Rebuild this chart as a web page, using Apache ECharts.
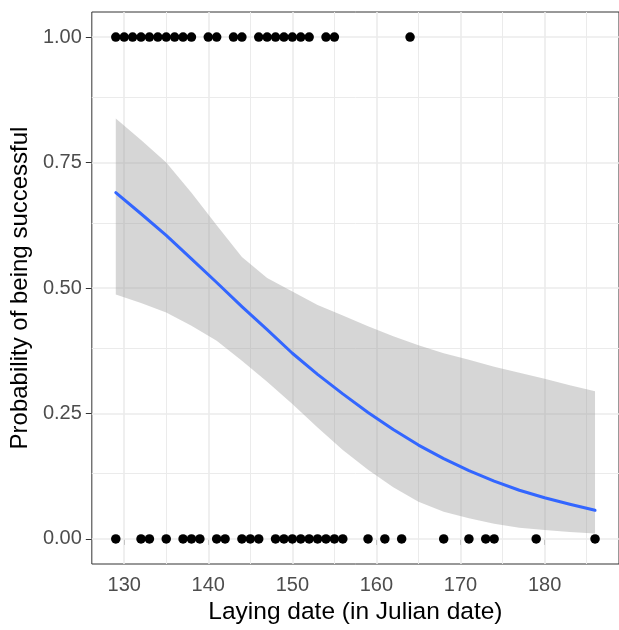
<!DOCTYPE html>
<html>
<head>
<meta charset="utf-8">
<script src="https://cdn.jsdelivr.net/npm/echarts@6/dist/echarts.min.js"></script>
<style>
html,body{margin:0;padding:0;background:#fff;}
#chart{width:619px;height:630px;}
</style>
</head>
<body>
<div id="chart"></div>
<script>
// ---- data ----
const successDates = [129,130,131,132,133,134,135,136,137,138,140,141,143,144,146,147,148,149,150,151,152,154,155,164];
const failureDates = [129,132,133,135,137,138,139,141,142,144,145,146,148,149,150,151,152,153,154,155,156,159,161,163,168,171,173,174,179,186];

const fitDates  = [129,132,135,138,141,144,147,150,153,156,159,162,165,168,171,174,177,180,183,186];
const fitProb   = [0.690,0.648,0.605,0.558,0.511,0.463,0.417,0.370,0.328,0.289,0.252,0.218,0.187,0.160,0.136,0.115,0.097,0.082,0.069,0.057];
const fitUpper  = [0.838,0.795,0.750,0.690,0.625,0.562,0.520,0.493,0.466,0.445,0.424,0.404,0.386,0.370,0.357,0.343,0.331,0.319,0.306,0.294];
const fitLower  = [0.487,0.470,0.451,0.425,0.395,0.355,0.313,0.269,0.222,0.177,0.138,0.103,0.074,0.054,0.041,0.030,0.022,0.018,0.014,0.011];

const xTicks = [130,140,150,160,170,180];
const xMinor = [135,145,155,165,175,185];
const yTicks = [0,0.25,0.5,0.75,1];
const yMinor = [0.125,0.375,0.625,0.875];
const xRange = [126.15, 188.85];
const yRange = [-0.05, 1.05];

const xTitle = 'Laying date (in Julian date)';
const yTitle = 'Probability of being successful';

// ---- chart ----
const FONT = '"Liberation Sans", Arial, sans-serif';
const GRID_COLOR = '#ebebeb';

function gridSeries(xs, ys, width) {
  return {
    type: 'line', data: [], silent: true, z: 1,
    markLine: {
      silent: true, animation: false, symbol: ['none','none'], z: 1,
      label: {show: false},
      lineStyle: {color: GRID_COLOR, width: width, type: 'solid'},
      emphasis: {disabled: true},
      data: xs.map(v => ({xAxis: v})).concat(ys.map(v => ({yAxis: v})))
    }
  };
}

const bandData = fitDates.map((d, i) => [d, fitLower[i], fitUpper[i]]);

const chart = echarts.init(document.getElementById('chart'), null, {renderer: 'canvas'});
chart.setOption({
  animation: false,
  backgroundColor: '#ffffff',
  textStyle: {fontFamily: FONT},
  grid: {left: 91, top: 12, right: -11, bottom: 62, show: true, borderColor: '#333333', borderWidth: 1, backgroundColor: 'transparent'},
  xAxis: {
    type: 'value', min: xRange[0], max: xRange[1],
    axisLine: {show: false},
    axisTick: {show: true, length: 6, customValues: xTicks, lineStyle: {color: '#333333', width: 1}},
    axisLabel: {customValues: xTicks, fontSize: 20, color: '#4d4d4d', margin: 11, fontFamily: FONT},
    splitLine: {show: false},
    name: xTitle, nameLocation: 'middle', nameGap: 36,
    nameTextStyle: {fontSize: 24.5, color: '#000000', fontFamily: FONT}
  },
  yAxis: {
    type: 'value', min: yRange[0], max: yRange[1],
    axisLine: {show: false},
    axisTick: {show: true, length: 6, customValues: yTicks, lineStyle: {color: '#333333', width: 1}},
    axisLabel: {customValues: yTicks, fontSize: 20, color: '#4d4d4d', margin: 10, fontFamily: FONT,
      formatter: v => Number(v).toFixed(2)},
    splitLine: {show: false},
    name: yTitle, nameLocation: 'middle', nameGap: 57, nameRotate: 90,
    nameTextStyle: {fontSize: 24, color: '#000000', fontFamily: FONT}
  },
  series: [
    gridSeries(xMinor, yMinor, 1),
    gridSeries(xTicks, yTicks, 1.6),
    {
      type: 'custom', z: 2, silent: true,
      data: bandData,
      encode: {x: 0, y: [1, 2]},
      renderItem: function (params, api) {
        if (params.dataIndex !== 0) return null;
        const pts = [];
        for (let i = 0; i < bandData.length; i++) pts.push(api.coord([bandData[i][0], bandData[i][2]]));
        for (let i = bandData.length - 1; i >= 0; i--) pts.push(api.coord([bandData[i][0], bandData[i][1]]));
        return {type: 'polygon', shape: {points: pts}, style: {fill: 'rgba(153,153,153,0.4)', stroke: null}};
      }
    },
    {
      type: 'line', z: 3, silent: true,
      data: fitDates.map((d, i) => [d, fitProb[i]]),
      showSymbol: false, smooth: false,
      lineStyle: {color: '#3366FF', width: 3, cap: 'round', join: 'round'}
    },
    {
      type: 'scatter', z: 4, silent: true,
      data: successDates.map(d => [d, 1]).concat(failureDates.map(d => [d, 0])),
      symbol: 'circle', symbolSize: 9.5,
      itemStyle: {color: '#000000', opacity: 1}
    }
  ]
});
</script>
</body>
</html>
